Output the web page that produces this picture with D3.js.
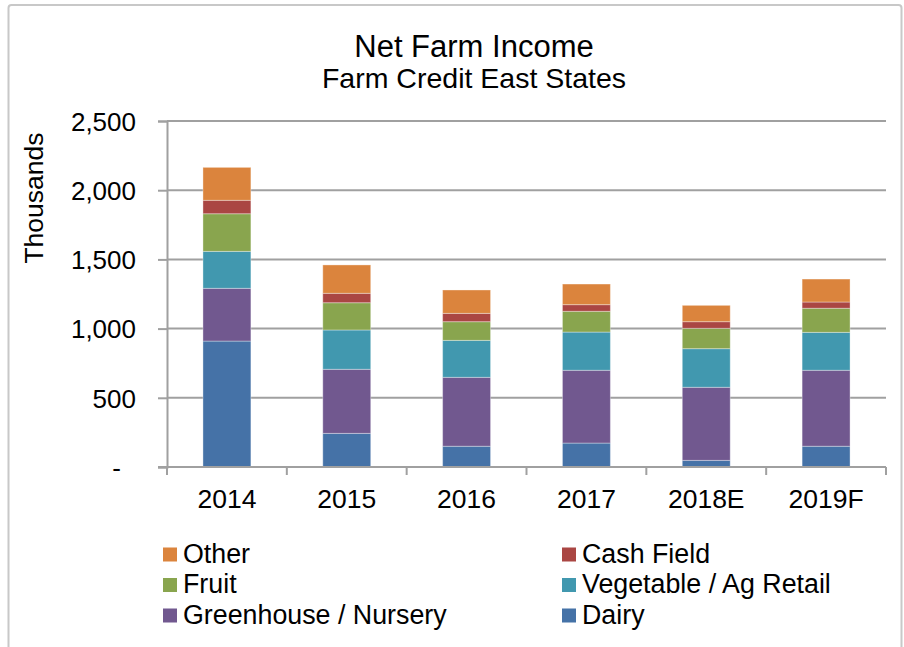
<!DOCTYPE html>
<html>
<head>
<meta charset="utf-8">
<script src="https://cdn.jsdelivr.net/npm/d3@7"></script>
<style>
    body { margin: 0; background: #fff; }
</style>
</head>
<body>
<script>
// values, in thousands
var years = ["2014", "2015", "2016", "2017", "2018E", "2019F"];
var dairy = [910, 243, 150, 173, 48, 150];
var greenhouse = [381, 463, 498, 526, 528, 549];
var vegetable = [267, 284, 267, 276, 279, 274];
var fruit = [272, 197, 135, 150, 147, 174];
var cashField = [97, 68, 60, 48, 48, 45];
var other = [238, 205, 169, 149, 118, 166];

var seriesNames = ["Dairy", "Greenhouse / Nursery", "Vegetable / Ag Retail", "Fruit", "Cash Field", "Other"];
var seriesColors = ["#4572A7", "#71588F", "#4198AF", "#89A54E", "#AA4643", "#DB843D"];
var yTicks = [0, 500, 1000, 1500, 2000, 2500];

// legend order as in the picture (two columns)
var legendLeft = ["Other", "Fruit", "Greenhouse / Nursery"];
var legendRight = ["Cash Field", "Vegetable / Ag Retail", "Dairy"];

var allSeries = [dairy, greenhouse, vegetable, fruit, cashField, other];
var rows = years.map(function (y, i) {
    var r = { year: y };
    seriesNames.forEach(function (s, j) { r[s] = allSeries[j][i]; });
    return r;
});

var w = 904;
var h = 647;
var font = "Arial, 'Liberation Sans', sans-serif";
var gridColor = "#a0a0a0";

var svg = d3.select("body")
    .append("svg")
    .attr("width", w)
    .attr("height", h);

// chart border
svg.append("rect")
    .attr("x", 8.5)
    .attr("y", 5)
    .attr("width", 893)
    .attr("height", 670)
    .attr("rx", 3)
    .attr("fill", "#fff")
    .attr("stroke", "#c8c8c8")
    .attr("stroke-width", 2);

// plot area edges
var plotLeft = 167, plotRight = 886, plotTop = 121, plotBottom = 467;

var xScale = d3.scaleBand()
    .domain(years)
    .range([plotLeft, plotRight])
    .paddingInner(0.6)
    .paddingOuter(0.3);

var yScale = d3.scaleLinear()
    .domain([0, 2500])
    .range([plotBottom, plotTop]);

var color = d3.scaleOrdinal()
    .domain(seriesNames)
    .range(seriesColors);

// gridlines
svg.append("g")
    .selectAll("line")
    .data(yTicks)
    .enter()
    .append("line")
    .attr("x1", plotLeft)
    .attr("x2", plotRight)
    .attr("y1", function (d) { return yScale(d); })
    .attr("y2", function (d) { return yScale(d); })
    .attr("stroke", gridColor)
    .attr("stroke-width", 2);

// y axis
var yAxis = d3.axisLeft(yScale)
    .tickValues(yTicks)
    .tickSize(9)
    .tickPadding(22)
    .tickFormat(function (d) { return d === 0 ? "-" : d3.format(",")(d); });

var gy = svg.append("g")
    .attr("transform", "translate(" + plotLeft + ",0)")
    .call(yAxis);

gy.select(".domain").attr("stroke", gridColor).attr("stroke-width", 2);
gy.selectAll(".tick line").attr("stroke", gridColor).attr("stroke-width", 2);
gy.selectAll(".tick text")
    .attr("font-family", font)
    .attr("font-size", 26)
    .attr("fill", "#000")
    .attr("dy", "0.36em");
gy.selectAll(".tick").filter(function (d) { return d === 0; })
    .select("text").attr("dx", -15);

// stacked bars
var stack = d3.stack().keys(seriesNames);
var stacked = stack(rows);

svg.append("g")
    .selectAll("g")
    .data(stacked)
    .enter()
    .append("g")
    .attr("fill", function (d) { return color(d.key); })
    .selectAll("rect")
    .data(function (d) { return d; })
    .enter()
    .append("rect")
    .attr("x", function (d) { return xScale(d.data.year); })
    .attr("y", function (d) { return yScale(d[1]); })
    .attr("width", xScale.bandwidth())
    .attr("height", function (d) { return yScale(d[0]) - yScale(d[1]); })
    .attr("stroke", "#fff")
    .attr("stroke-opacity", 0.35)
    .attr("stroke-width", 1);

// x axis: line and tick marks between categories
var step = xScale.step();
var bounds = years.map(function (y) { return xScale(y) - (step - xScale.bandwidth()) / 2; });
bounds.push(plotRight);

svg.append("line")
    .attr("x1", plotLeft - 9)
    .attr("x2", plotRight)
    .attr("y1", plotBottom)
    .attr("y2", plotBottom)
    .attr("stroke", gridColor)
    .attr("stroke-width", 2);

svg.append("g")
    .selectAll("line")
    .data(bounds)
    .enter()
    .append("line")
    .attr("x1", function (d) { return d; })
    .attr("x2", function (d) { return d; })
    .attr("y1", plotBottom)
    .attr("y2", plotBottom + 8)
    .attr("stroke", gridColor)
    .attr("stroke-width", 2);

svg.append("g")
    .selectAll("text")
    .data(years)
    .enter()
    .append("text")
    .attr("x", function (d) { return xScale(d) + xScale.bandwidth() / 2; })
    .attr("y", 508)
    .attr("text-anchor", "middle")
    .attr("font-family", font)
    .attr("font-size", 26.5)
    .text(function (d) { return d; });

// titles
svg.append("text")
    .attr("x", 474)
    .attr("y", 57)
    .attr("text-anchor", "middle")
    .attr("font-family", font)
    .attr("font-size", 31)
    .text("Net Farm Income");

svg.append("text")
    .attr("x", 474)
    .attr("y", 88)
    .attr("text-anchor", "middle")
    .attr("font-family", font)
    .attr("font-size", 28.5)
    .text("Farm Credit East States");

svg.append("text")
    .attr("text-anchor", "middle")
    .attr("transform", "translate(43,198) rotate(-90)")
    .attr("font-family", font)
    .attr("font-size", 26.5)
    .text("Thousands");

// legend
function drawLegend(names, x0) {
    var g = svg.append("g");
    var item = g.selectAll("g")
        .data(names)
        .enter()
        .append("g")
        .attr("transform", function (d, i) { return "translate(" + x0 + "," + (562.5 + i * 30.5) + ")"; });
    item.append("rect")
        .attr("x", 0)
        .attr("y", -15)
        .attr("width", 14)
        .attr("height", 14)
        .attr("fill", function (d) { return color(d); });
    item.append("text")
        .attr("x", 20)
        .attr("y", 0)
        .attr("font-family", font)
        .attr("font-size", 26.8)
        .text(function (d) { return d; });
}

drawLegend(legendLeft, 163);
drawLegend(legendRight, 562);
</script>
</body>
</html>
